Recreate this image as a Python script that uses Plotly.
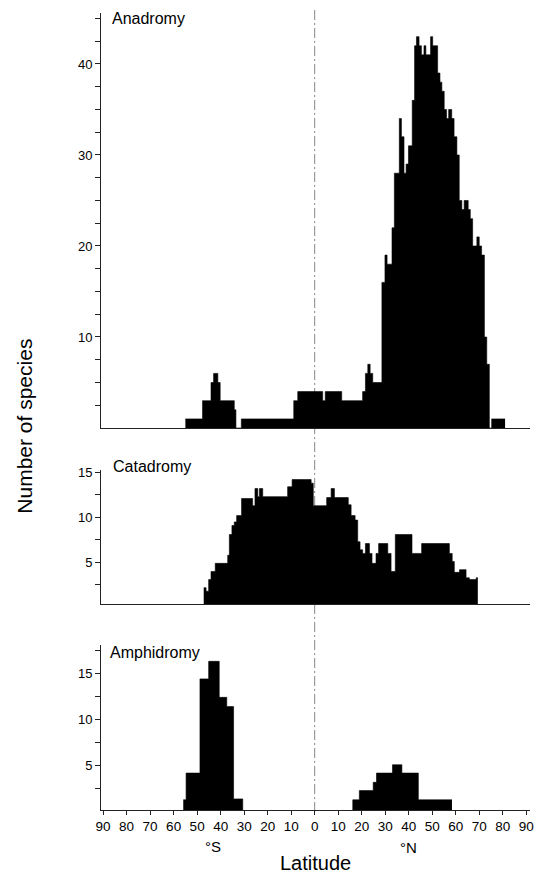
import plotly.graph_objects as go

# ---------------- data (latitude: negative = °S, positive = °N) ----------------
ana_lat = [-55, -47.7, -44.1, -43.0, -41.2, -40.2, -34.2, -33.5, -31.2, -8.9, -7.2,
           3.4, 4.5, 11.5, 20.4, 21.6, 22.6, 23.6, 24.7, 28.6, 29.9, 30.8, 32.9, 33.9,
           36.0, 36.9, 38.0, 38.9, 39.9, 41.5, 42.5, 43.3, 44.4, 45.4, 46.5, 47.3, 49.3,
           50.2, 52.3, 53.3, 54.1, 55.1, 56.1, 57.0, 58.3, 59.3, 60.5, 61.5, 62.6, 63.6,
           65.3, 66.2, 67.2, 68.2, 69.0, 70.0, 71.0, 72.2, 73.2, 74.3, 75.3]
ana_cnt = [1, 3, 5, 6, 5, 3, 2, 0, 1, 3, 4,
           3, 4, 3, 4, 6, 7, 6, 5, 16, 19, 18, 22, 28,
           34, 32, 28, 29, 31, 36, 42, 43, 42, 41, 42, 41, 43,
           42, 39, 38, 37, 35, 34, 35, 34, 32, 30, 25, 24, 25,
           24, 23, 20, 20, 21, 20, 19, 10, 7, 0, 1]
ana_end = 81

cat_lat = [-47.2, -46.2, -45.1, -44.1, -42.3, -37.0, -36.3, -35.2, -34.2, -33.2, -31.1,
           -26.4, -25.4, -24.2, -23.5, -22.1, -11.5, -9.6, -1.5, -0.6, 5.1, 7.0, 8.4,
           14.3, 15.5, 17.2, 18.3, 19.3, 20.4, 21.6, 23.3, 24.4, 26.1, 27.2, 31.1, 32.5,
           34.3, 41.4, 45.5, 57.3, 58.5, 59.4, 61.6, 64.4, 65.8, 68.7]
cat_cnt = [2.2, 1.8, 3.1, 4.0, 4.9, 5.8, 8.1, 9.1, 9.5, 10.2, 12.1,
           11.3, 13.2, 12.3, 13.2, 12.3, 13.4, 14.2, 13.8, 11.3, 12.2, 13.2, 12.2,
           11.4, 10.2, 9.7, 7.3, 6.4, 6.0, 7.1, 6.0, 4.9, 6.0, 7.1, 6.0, 4.0,
           8.1, 6.0, 7.1, 6.0, 5.1, 3.9, 4.2, 3.3, 3.1, 3.3]
cat_end = 69.4

amp_lat = [-55.9, -54.7, -48.8, -45.1, -40.6, -37.4, -34.5, -30.6,
           16.2, 19.0, 24.9, 26.3, 33.1, 37.1, 44.1]
amp_cnt = [1.3, 4.2, 14.4, 16.3, 12.4, 11.4, 1.4, 0,
           1.3, 2.3, 3.2, 4.2, 5.1, 4.2, 1.3]
amp_end = 58.4

x_ticks = list(range(-90, 91, 10))
x_ticktext = [str(abs(v)) for v in x_ticks]

panel_names = ["Anadromy", "Catadromy", "Amphidromy"]

# ---------------- figure ----------------
W, H = 536, 875
L, R = 101, 6
PW = W - L - R
FONT = "Liberation Sans, Arial, Helvetica, sans-serif"


def px_x(px):
    return (px - L) / PW


def px_y(py):
    return 1 - py / H


fig = go.Figure()

series = [(ana_lat, ana_cnt, ana_end, "x", "y"),
          (cat_lat, cat_cnt, cat_end, "x2", "y2"),
          (amp_lat, amp_cnt, amp_end, "x3", "y3")]
for lat, cnt, end, xa, ya in series:
    fig.add_trace(go.Scatter(
        x=list(lat) + [end], y=list(cnt) + [cnt[-1]],
        mode="lines", line=dict(shape="hv", color="black", width=0.6),
        fill="tozeroy", fillcolor="black", xaxis=xa, yaxis=ya,
        showlegend=False, hoverinfo="skip"))

xcommon = dict(range=[-90.9, 91.6], showgrid=False, zeroline=False, showline=True,
               linecolor="#222", linewidth=1)
ycommon = dict(showgrid=False, zeroline=False, showline=True, linecolor="#222",
               linewidth=1, ticks="outside", ticklen=5, tickwidth=1, tickcolor="#222",
               tickfont=dict(size=13, color="black", family=FONT))


def yticks(maxv, lab):
    vals, txt = [], []
    v = 2.5
    while v <= maxv + 1e-9:
        vals.append(v)
        txt.append(str(int(v)) if abs(v % lab) < 1e-9 else "")
        v += 2.5
    return vals, txt


tv1, tt1 = yticks(45, 10)
tv2, tt2 = yticks(15, 5)
tv3, tt3 = yticks(17.5, 5)

fig.update_layout(
    width=W, height=H, margin=dict(l=L, r=R, t=0, b=0, autoexpand=False),
    paper_bgcolor="white", plot_bgcolor="white",
    font=dict(family=FONT, color="black"),
    xaxis=dict(**xcommon, domain=[0, 1], anchor="y", showticklabels=False, ticks=""),
    xaxis2=dict(**xcommon, domain=[0, 1], anchor="y2", showticklabels=False, ticks=""),
    xaxis3=dict(**xcommon, domain=[0, 1], anchor="y3", tickmode="array",
                tickvals=x_ticks, ticktext=x_ticktext, ticks="outside", ticklen=4,
                tickcolor="#222", tickfont=dict(size=13.5, color="black", family=FONT)),
    yaxis=dict(**ycommon, domain=[px_y(428), px_y(13)], range=[0, 45.6], anchor="x",
               tickmode="array", tickvals=tv1, ticktext=tt1),
    yaxis2=dict(**ycommon, domain=[px_y(604), px_y(470)], range=[0.39, 15.26], anchor="x2",
                tickmode="array", tickvals=tv2, ticktext=tt2),
    yaxis3=dict(**ycommon, domain=[px_y(810), px_y(645)], range=[0.2, 18.07], anchor="x3",
                tickmode="array", tickvals=tv3, ticktext=tt3),
)

# equator dash-dot line across all panels
fig.add_shape(type="line", xref="x3", yref="paper", x0=0, x1=0,
              y0=px_y(812), y1=px_y(8), layer="below",
              line=dict(color="#888", width=1, dash="10px,3px,2px,3px"))

ann = [
    (panel_names[0], px_x(109.5), px_y(18), "left", 16, 0),
    (panel_names[1], px_x(110.7), px_y(466.7), "left", 16, 0),
    (panel_names[2], px_x(108.3), px_y(652.3), "left", 16, 0),
    ("°S", px_x(213), px_y(846.7), "center", 15, 0),
    ("°N", px_x(408.3), px_y(847), "center", 15, 0),
    ("Latitude", px_x(315.7), px_y(862.5), "center", 20, 0),
    ("Number of species", px_x(25), px_y(426.7), "center", 21, -90),
]
for text, x, y, xa, size, ang in ann:
    fig.add_annotation(text=text, x=x, y=y, xref="paper", yref="paper",
                       xanchor=xa, yanchor="middle", showarrow=False, textangle=ang,
                       font=dict(size=size, color="black", family=FONT))

fig.write_html("out.html", config={"displayModeBar": False, "staticPlot": True})

# remove the browser's default page margin so the figure sits at the window origin
with open("out.html", "r", encoding="utf-8") as f:
    html = f.read()
html = html.replace("<head>", "<head><style>html,body{margin:0;padding:0;overflow:hidden;}</style>", 1)
with open("out.html", "w", encoding="utf-8") as f:
    f.write(html)
